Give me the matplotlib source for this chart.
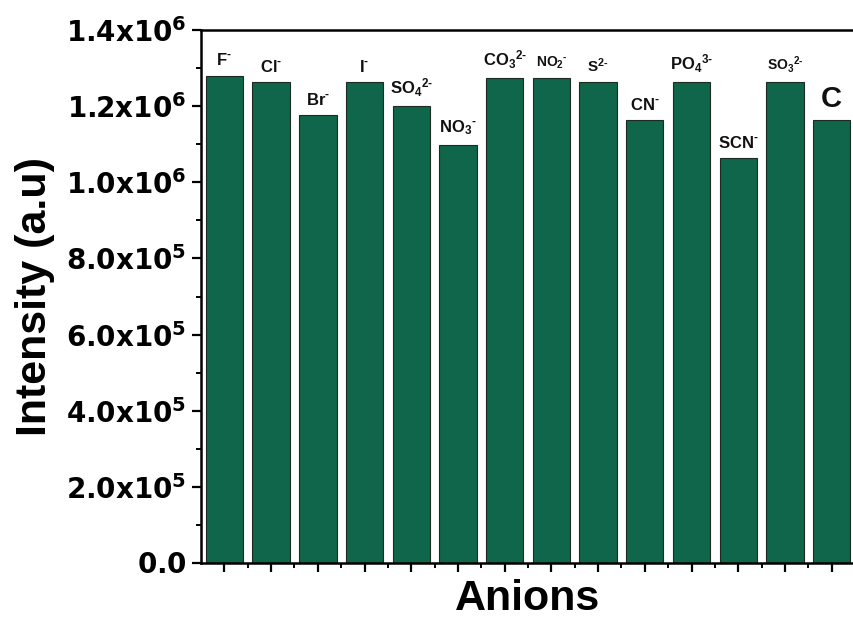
import numpy as np
import matplotlib
matplotlib.use('Agg')
import matplotlib.pyplot as plt
from matplotlib.ticker import FuncFormatter, MultipleLocator, FixedLocator

plt.rcParams['font.family'] = 'Liberation Sans'
plt.rcParams['font.weight'] = 'bold'
plt.rcParams['mathtext.fontset'] = 'dejavusans'
plt.rcParams['mathtext.rm'] = 'Liberation Sans:bold'
plt.rcParams['mathtext.bf'] = 'Liberation Sans:bold'
plt.rcParams['mathtext.it'] = 'Liberation Sans:bold'

# anion labels (mathtext, short hyphen for the charge) and measured intensities
anions = [r'F$^{\text{-}}$', r'Cl$^{\text{-}}$', r'Br$^{\text{-}}$', r'I$^{\text{-}}$',
          r'SO$_4{}^{\text{2-}}$', r'NO$_3{}^{\text{-}}$', r'CO$_3{}^{\text{2-}}$',
          r'NO$_2{}^{\text{-}}$', r'S$^{\text{2-}}$', r'CN$^{\text{-}}$',
          r'PO$_4{}^{\text{3-}}$', r'SCN$^{\text{-}}$', r'SO$_3{}^{\text{2-}}$', 'C']
intensity = [1.279e6, 1.263e6, 1.176e6, 1.263e6, 1.200e6, 1.099e6, 1.273e6,
             1.273e6, 1.263e6, 1.163e6, 1.263e6, 1.063e6, 1.263e6, 1.163e6]
label_size = [12, 12, 12, 12, 12, 12, 12, 10, 11, 12, 12, 12, 10, 21]

fig = plt.figure(figsize=(8.54, 6.19), dpi=100)
ax = fig.add_axes([0.2354, 0.0905, 0.7658, 0.861])

x = np.arange(len(intensity))
ax.bar(x, intensity, width=0.8, color='#10664a', edgecolor='#1c2b22', linewidth=0.8)

for xi, yi, lab, fs in zip(x, intensity, anions, label_size):
    ax.text(xi, yi + 0.02e6, lab, ha='center', va='bottom', fontsize=fs,
            fontweight='bold', color='#111111', math_fontfamily='custom')

ax.set_xlim(-0.5, 13.5)
ax.set_ylim(0, 1.4e6)

def sci_fmt(v, pos):
    if v < 1:
        return r'$\mathbf{0.0}$'
    e = int(np.floor(np.log10(v) + 1e-9))
    m = v / 10 ** e
    return r'$\mathbf{%.1fx10^{%d}}$' % (m, e)

ax.yaxis.set_major_locator(MultipleLocator(2e5))
ax.yaxis.set_minor_locator(MultipleLocator(1e5))
ax.yaxis.set_major_formatter(FuncFormatter(sci_fmt))
ax.xaxis.set_major_locator(FixedLocator(x))
ax.xaxis.set_minor_locator(FixedLocator(x[:-1] + 0.5))
ax.set_xticklabels([])

ax.tick_params(axis='both', which='major', direction='out', length=6.5, width=1.6,
               labelsize=20, pad=4)
ax.tick_params(axis='both', which='minor', direction='out', length=3.5, width=1.4)
ax.tick_params(top=False, right=False, which='both')

for s in ax.spines.values():
    s.set_linewidth(1.8)

ax.set_ylabel('Intensity (a.u)', fontsize=31, fontweight='bold', labelpad=8)
ax.set_xlabel('Anions', fontsize=31, fontweight='bold', labelpad=1)

fig.savefig('out.png', dpi=100)
